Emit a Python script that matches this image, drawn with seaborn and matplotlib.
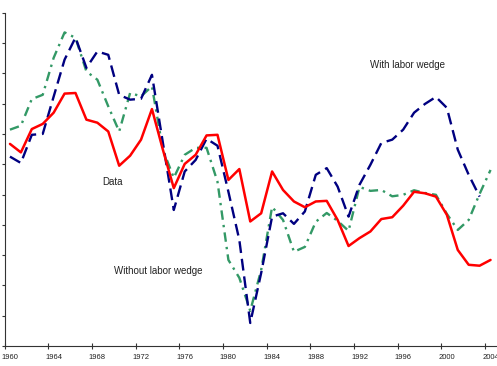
import numpy as np
import pandas as pd
import matplotlib
matplotlib.use("Agg")
import matplotlib.pyplot as plt
import seaborn as sns

years = list(range(1960, 2005))

# output index (arbitrary units, one unit per y tick)
data_y = [96.67, 96.39, 97.16, 97.33, 97.70, 98.33, 98.35, 97.47, 97.37, 97.08,
          95.95, 96.28, 96.81, 97.82, 96.48, 95.21, 96.01, 96.31, 96.95, 96.97,
          95.48, 95.84, 94.11, 94.38, 95.76, 95.15, 94.77, 94.58, 94.77, 94.79,
          94.16, 93.30, 93.56, 93.78, 94.19, 94.25, 94.63, 95.09, 95.04, 94.93,
          94.33, 93.17, 92.68, 92.65, 92.84]

with_wedge = [96.25, 96.04, 96.97, 97.00, 98.23, 99.45, 100.18, 99.18, 99.72, 99.61,
              98.29, 98.13, 98.16, 98.95, 96.71, 94.49, 95.76, 96.14, 96.84, 96.61,
              95.09, 93.50, 90.76, 92.41, 94.27, 94.38, 94.03, 94.44, 95.65, 95.87,
              95.26, 94.27, 95.32, 95.98, 96.70, 96.81, 97.14, 97.70, 97.99, 98.22,
              97.86, 96.48, 95.65, 94.93, np.nan]

without_wedge = [97.14, 97.27, 98.15, 98.29, 99.51, 100.35, 100.17, 99.06, 98.79, 97.91,
                 97.08, 98.35, 98.24, 98.57, 96.48, 95.55, 96.31, 96.54, 96.54, 95.42,
                 92.84, 92.25, 91.16, 92.51, 94.59, 94.16, 93.11, 93.27, 94.10, 94.39,
                 94.13, 93.80, 95.25, 95.12, 95.15, 94.94, 94.99, 95.14, 95.05, 94.99,
                 94.36, 93.83, 94.16, 95.02, 95.81]

df = pd.DataFrame({'year': years, 'data': data_y,
                   'with': with_wedge, 'without': without_wedge})

sns.set_style("ticks")
plt.rcParams['font.family'] = ['Liberation Sans', 'DejaVu Sans']

fig = plt.figure(figsize=(4.97, 3.66), dpi=100)
ax = fig.add_axes([4.5 / 497, 1 - 346 / 366, (496 - 4.5) / 497, (346 - 12.7) / 366])

# 三条线
sns.lineplot(data=df, x='year', y='without', ax=ax, color='#339966',
             linewidth=1.7, linestyle=(0, (4, 2.2, 1, 2.2)))
sns.lineplot(data=df, x='year', y='with', ax=ax, color='#000080',
             linewidth=1.7, linestyle=(0, (5, 2.5)))
sns.lineplot(data=df, x='year', y='data', ax=ax, color='#FF0000',
             linewidth=1.8)

ax.set_xlim(1959.5, 2004.5)
ax.set_ylim(90, 101)
ax.set_yticks(range(90, 102))
ax.set_yticklabels([])
ax.set_xticks(np.arange(1959.5, 2004, 4))
ax.set_xticklabels([])
ax.set_xticks(range(1960, 2005, 4), minor=True)
ax.set_xticklabels([str(y) for y in range(1960, 2005, 4)], minor=True)
ax.tick_params(axis='x', which='major', direction='inout', length=4, width=0.8, color='#333333')
ax.tick_params(axis='x', which='minor', length=0, labelsize=5.5, pad=6, labelcolor='#222222')
ax.tick_params(axis='y', direction='out', length=2.5, width=0.8, color='#333333')
ax.set_xlabel('')
ax.set_ylabel('')
for s in ['top', 'right']:
    ax.spines[s].set_visible(False)
for s in ['left', 'bottom']:
    ax.spines[s].set_color('#333333')
    ax.spines[s].set_linewidth(0.8)

ax.text(1996.43, 99.28, 'With labor wedge', fontsize=7, ha='center', va='center', color='#222222')
ax.text(1969.37, 95.42, 'Data', fontsize=7, ha='center', va='center', color='#222222')
ax.text(1973.58, 92.49, 'Without labor wedge', fontsize=7, ha='center', va='center', color='#222222')

fig.savefig('out.png', dpi=100)
